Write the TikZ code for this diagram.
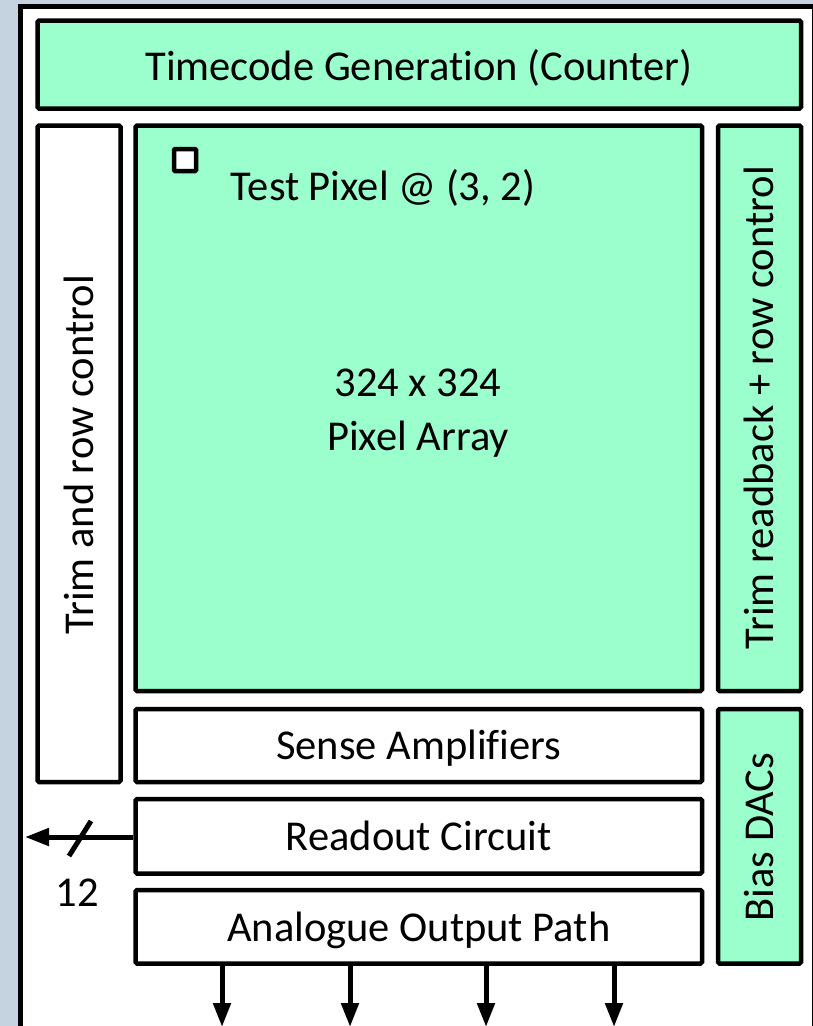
\documentclass[tikz,border=0pt]{standalone}
\usepackage{fontspec}
\setmainfont{Carlito}[Ligatures={NoCommon,NoRequired,NoContextual}]
\usetikzlibrary{arrows.meta}
\definecolor{mint}{HTML}{9AFFCC}
\definecolor{bgblue}{HTML}{C5D3E0}
\tikzset{
  blk/.style={draw=black, line width=4.5pt, rounded corners=1.5pt, inner sep=0pt, fill=white},
  gblk/.style={blk, fill=mint},
  lbl/.style={font=\fontsize{42.5}{54}\selectfont, inner sep=0pt, anchor=base},
  sig/.style={line width=5pt, -{Triangle[length=24pt,width=17pt]}}
}
\begin{document}
\begin{tikzpicture}[x=1pt,y=-1pt]
\useasboundingbox (0,0) rectangle (813,1026);
\fill[bgblue] (0,0) rectangle (813,1026);
\begin{scope}
\clip (0,0) rectangle (813,1026);
\draw[line width=5pt, fill=white] (20,6.7) rectangle (814,1045);
\end{scope}
% blocks
\node[gblk, minimum width=763.5pt, minimum height=88pt] (tc) at (419.25,64.5) {};
\node[blk, minimum width=83pt, minimum height=656.5pt] (trimL) at (79,453.75) {};
\node[gblk, minimum width=566.5pt, minimum height=565.5pt] (pix) at (418.75,408.25) {};
\node[gblk, minimum width=83pt, minimum height=565.5pt] (trimR) at (759.5,408.25) {};
\node[blk, minimum width=566.5pt, minimum height=73pt] (sense) at (418.75,745.5) {};
\node[blk, minimum width=566.5pt, minimum height=74.5pt] (readout) at (418.75,836.25) {};
\node[blk, minimum width=566.5pt, minimum height=73.5pt] (analog) at (418.75,926.75) {};
\node[gblk, minimum width=83pt, minimum height=254.5pt] (bias) at (759.5,836.25) {};
\node[blk, line width=4.5pt, minimum width=22pt, minimum height=22pt, rounded corners=1pt] (tp) at (185,160) {};
% labels
\node[lbl] (tcT) at (419,80) {Timecode Generation (Counter)};
\node[lbl] (tpT) at (383,200) {Test Pixel @ (3, 2)};
\node[lbl, align=center] (pixT) at (418,450) {324 x 324\\Pixel Array};
\node[lbl, rotate=90] (trimLT) at (93,455) {Trim and row control};
\node[lbl, rotate=90] (trimRT) at (773,408) {Trim readback + row control};
\node[lbl, rotate=90] (biasT) at (773,837) {Bias DACs};
\node[lbl] (senseT) at (418.75,759) {Sense Amplifiers};
\node[lbl] (readoutT) at (418.75,850) {Readout Circuit};
\node[lbl] (analogT) at (418.75,941) {Analogue Output Path};
\node[lbl] (twelve) at (77,906) {12};
% readout bus
\coordinate (busEnd) at (25,837);
\draw[sig] (readout.west |- 0,837) -- (busEnd);
\coordinate (s1) at (69,856);
\coordinate (s2) at (91,821);
\draw[line width=5pt] (s1) -- (s2);
% outputs
\foreach \x [count=\i] in {222,350,486,614}{
  \coordinate (o\i) at (\x,1027);
  \draw[sig] (\x,963.5) -- (o\i);
}
\end{tikzpicture}
\end{document}
